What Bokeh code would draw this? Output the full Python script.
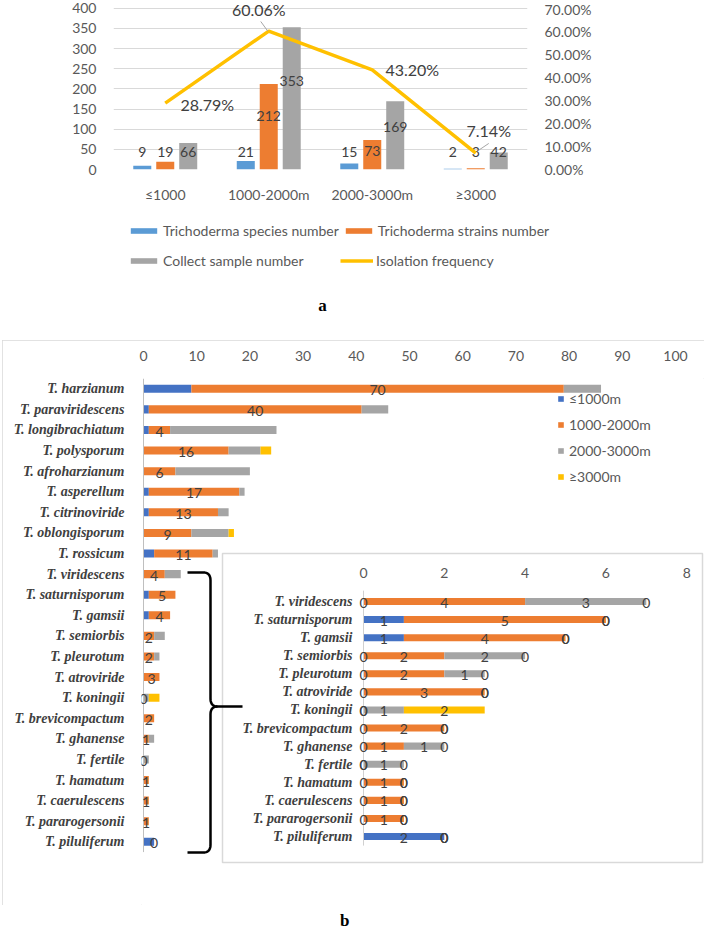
import numpy as np
from bokeh.plotting import figure
from bokeh.models import (ColumnDataSource, FactorRange, Range1d, LinearAxis, FixedTicker,
                          NumeralTickFormatter, Legend, LegendItem, Label, Div)
from bokeh.transform import dodge
from bokeh.core.properties import value
from bokeh.embed import file_html
from bokeh.resources import INLINE

# ---------------- data: panel a ----------------
altitudes = ["≤1000", "1000-2000m", "2000-3000m", "≥3000"]
species_number = [9, 21, 15, 2]
strains_number = [19, 212, 73, 3]
sample_number = [66, 353, 169, 42]
isolation_freq = [28.79, 60.06, 43.20, 7.14]   # percent
a_series_names = ["Trichoderma species number", "Trichoderma strains number",
                  "Collect sample number", "Isolation frequency"]
count_ticks = list(range(0, 401, 50))
pct_ticks = [i / 10 for i in range(8)]

# ---------------- data: panel b ----------------
species = ["T. harzianum", "T. paraviridescens", "T. longibrachiatum", "T. polysporum",
           "T. afroharzianum", "T. asperellum", "T. citrinoviride", "T. oblongisporum",
           "T. rossicum", "T. viridescens", "T. saturnisporum", "T. gamsii", "T. semiorbis",
           "T. pleurotum", "T. atroviride", "T. koningii", "T. brevicompactum", "T. ghanense",
           "T. fertile", "T. hamatum", "T. caerulescens", "T. pararogersonii", "T. piluliferum"]
alt_le1000 = [9, 1, 1, 0, 0, 1, 1, 0, 2, 0, 1, 1, 0, 0, 0, 0, 0, 0, 0, 0, 0, 0, 2]
alt_1000_2000 = [70, 40, 4, 16, 6, 17, 13, 9, 11, 4, 5, 4, 2, 2, 3, 0, 2, 1, 0, 1, 1, 1, 0]
alt_2000_3000 = [7, 5, 20, 6, 14, 1, 2, 7, 1, 3, 0, 0, 2, 1, 0, 1, 0, 1, 1, 0, 0, 0, 0]
alt_ge3000 = [0, 0, 0, 2, 0, 0, 0, 1, 0, 0, 0, 0, 0, 0, 0, 2, 0, 0, 0, 0, 0, 0, 0]
alt_labels = ["≤1000m", "1000-2000m", "2000-3000m", "≥3000m"]
inset_first = 9   # the inset repeats the species from T. viridescens onwards
inset_ticks = [0, 2, 4, 6, 8]
main_ticks = list(range(0, 101, 10))

# ---------------- styles ----------------
W = 710
H_A, H_LEG, H_B, H_BL = 205, 135, 565, 25
SANS = "Lato"
SERIF = "Liberation Serif"
GREY_TXT = "#595959"
DARK_TXT = "#404040"
A_COLORS = ["#5B9BD5", "#ED7D31", "#A5A5A5"]
LINE_COLOR = "#FFC000"
B_COLORS = ["#4472C4", "#ED7D31", "#A5A5A5", "#FFC000"]
BORDER = "#D9D9D9"

# ================= panel a : chart =================
A_LEFT, A_RIGHT, A_BOTTOM = 113, 183, 29
ZERO_PX, TOP400_PX = 176.0, 8.0
UPP = 400.0 / (ZERO_PX - TOP400_PX)       # data units per pixel
Y_END = ZERO_PX * UPP
PCT_SCALE = 0.70 / 400.0
CAT_PX = (W - A_LEFT - A_RIGHT) / len(altitudes)

pa = figure(width=W, height=H_A, x_range=FactorRange(*altitudes), y_range=Range1d(0, Y_END),
            output_backend="svg", toolbar_location=None,
            min_border_left=A_LEFT, min_border_right=A_RIGHT,
            min_border_top=0, min_border_bottom=A_BOTTOM)
pa.x_range.range_padding = 0
pa.extra_y_ranges = {"pct": Range1d(0, Y_END * PCT_SCALE)}
pa.outline_line_color = None
pa.xgrid.grid_line_color = None
pa.ygrid.ticker = FixedTicker(ticks=count_ticks)
pa.ygrid.grid_line_color = BORDER
pa.yaxis.ticker = FixedTicker(ticks=count_ticks)

right_axis = LinearAxis(y_range_name="pct", ticker=FixedTicker(ticks=pct_ticks),
                        formatter=NumeralTickFormatter(format="0.00%"))
pa.add_layout(right_axis, "right")
for ax in [pa.yaxis[0], right_axis, pa.xaxis[0]]:
    ax.axis_line_color = None
    ax.major_tick_line_color = None
    ax.minor_tick_line_color = None
    ax.major_label_text_font = SANS
    ax.major_label_text_font_size = "14px"
    ax.major_label_text_color = GREY_TXT
    ax.major_label_standoff = 13
pa.yaxis.major_label_standoff = 11
pa.xaxis.major_label_standoff = 10

def bar_label_y(vals):
    v = np.asarray(vals, dtype=float)
    return np.maximum(43.0, v * 0.62)

offs = [-0.222, 0.0, 0.222]
src_a = ColumnDataSource(dict(cat=altitudes,
                              s0=species_number, s1=strains_number, s2=sample_number,
                              l0=bar_label_y(species_number), l1=bar_label_y(strains_number),
                              l2=bar_label_y(sample_number),
                              t0=[str(v) for v in species_number],
                              t1=[str(v) for v in strains_number],
                              t2=[str(v) for v in sample_number],
                              freq=np.array(isolation_freq) / 100.0))
for k in range(3):
    pa.vbar(x=dodge("cat", offs[k], range=pa.x_range), top=f"s{k}", width=0.174,
            fill_color=A_COLORS[k], line_color=None, source=src_a)
    pa.text(x=dodge("cat", offs[k], range=pa.x_range), y=f"l{k}", text=f"t{k}",
            text_align="center", text_baseline="middle", text_font=value(SANS),
            text_font_size="14px", text_color=DARK_TXT, source=src_a)

pa.line(x="cat", y="freq", y_range_name="pct", line_color=LINE_COLOR,
        line_width=3.5, source=src_a)

# percentage labels (offsets in pixels relative to each point; negative dy = up)
lab_dx = np.array([42, -10, 40, 13])
lab_dy = np.array([1, -23, 0, -23])
pct_per_px = UPP * PCT_SCALE
pt_x = np.arange(len(altitudes)) + 0.5
pt_y = np.array(isolation_freq) / 100.0
pa.text(x=pt_x + lab_dx / CAT_PX, y=pt_y - lab_dy * pct_per_px,
        text=[f"{v:.2f}%" for v in isolation_freq], y_range_name="pct",
        text_align="center", text_baseline="middle", text_font=value(SANS),
        text_font_size="16px", text_color=DARK_TXT)
for i, (sx, sy, ex, ey) in {1: (2, 13, -1, 0), 3: (0, 13, 3, -3)}.items():
    x0 = pt_x[i] + (lab_dx[i] + sx) / CAT_PX
    y0 = pt_y[i] - (lab_dy[i] + sy) * pct_per_px
    x1 = pt_x[i] + ex / CAT_PX
    y1 = pt_y[i] - ey * pct_per_px
    pa.line(x=[x0, x1], y=[y0, y1], y_range_name="pct", line_color="#A6A6A6", line_width=1)

# ================= panel a : legend strip and caption =================
pl = figure(width=W, height=H_LEG, x_range=Range1d(0, W), y_range=Range1d(H_LEG, 0),
            x_axis_location=None, y_axis_location=None, output_backend="svg",
            toolbar_location=None, min_border_left=0, min_border_right=0,
            min_border_top=0, min_border_bottom=0)
pl.outline_line_color = None
pl.grid.grid_line_color = None
# legend keys (one NaN point each, so only the legend swatch is drawn)
key_r = [pl.vbar(x=[np.nan], top=[np.nan], width=1, fill_color=c, line_color=None)
         for c in A_COLORS]
key_r.append(pl.line(x=[np.nan, np.nan], y=[np.nan, np.nan], line_color=LINE_COLOR,
                     line_width=3.5))

def legend_row(items, row_center_px):
    return Legend(items=items, orientation="horizontal",
                  location=(127, H_LEG - (row_center_px + 8)),
                  glyph_width=33, glyph_height=7, label_height=16, label_width=174,
                  label_standoff=3, spacing=3, margin=0, padding=0,
                  border_line_color=None, background_fill_alpha=0, label_text_font=SANS,
                  label_text_font_size="14px", label_text_color=GREY_TXT)

pl.add_layout(legend_row([LegendItem(label=a_series_names[0], renderers=[key_r[0]]),
                          LegendItem(label=a_series_names[1], renderers=[key_r[1]])], 26))
pl.add_layout(legend_row([LegendItem(label=a_series_names[2], renderers=[key_r[2]]),
                          LegendItem(label=a_series_names[3], renderers=[key_r[3]])], 56))
pl.add_layout(Label(x=322, y=100, text="a", text_align="center", text_baseline="middle",
                    text_font=SERIF, text_font_size="17px", text_font_style="bold",
                    text_color="#000000"))

# ================= panel b =================
B_W = 702
B_LEFT, B_TOP = 139, 38
X0, PPU = 141.0, 5.32          # main chart: x=0 at px 141, 5.32 px per unit
R0, PITCH = 48.3, 20.59        # main chart: first row centre, row pitch
IX0, IPPU = 361.0, 40.4        # inset: x=0 at px 361
IR0, IPITCH = 261.0, 18.08     # inset: first row centre, row pitch

def bx(px): return (px - X0) / PPU
def by(py): return (py - R0) / PITCH
def ixf(px): return (px - IX0) / IPPU
def iyf(py): return (py - IR0) / IPITCH

pb = figure(width=B_W, height=H_B, x_range=Range1d(bx(B_LEFT), bx(B_W)),
            y_range=Range1d(by(H_B), by(B_TOP)), x_axis_location="above",
            output_backend="svg", toolbar_location=None,
            min_border_left=B_LEFT, min_border_top=B_TOP, min_border_right=0,
            min_border_bottom=0)
pb.styles = {"outline": f"1.5px solid {BORDER}", "outline-offset": "-1.5px",
             "margin-left": "2px"}
pb.extra_x_ranges = {"ix": Range1d(ixf(B_LEFT), ixf(B_W))}
pb.extra_y_ranges = {"iy": Range1d(iyf(H_B), iyf(B_TOP))}
pb.outline_line_color = None
pb.grid.grid_line_color = None

rows = list(range(len(species)))
pb.xaxis.ticker = FixedTicker(ticks=main_ticks)
pb.yaxis.ticker = FixedTicker(ticks=rows)
pb.yaxis.major_label_overrides = {i: s for i, s in enumerate(species)}
for ax in [pb.xaxis[0], pb.yaxis[0]]:
    ax.axis_line_color = None
    ax.major_tick_line_color = None
    ax.minor_tick_line_color = None
pb.xaxis.major_label_text_font = SANS
pb.xaxis.major_label_text_font_size = "14px"
pb.xaxis.major_label_text_color = GREY_TXT
pb.xaxis.major_label_standoff = 12
pb.yaxis.major_label_text_font = SERIF
pb.yaxis.major_label_text_font_style = "bold italic"
pb.yaxis.major_label_text_font_size = "14px"
pb.yaxis.major_label_text_color = DARK_TXT
pb.yaxis.major_label_standoff = 11

stack_names = ["b1", "b2", "b3", "b4"]
series_b = [alt_le1000, alt_1000_2000, alt_2000_3000, alt_ge3000]
src_b = ColumnDataSource(dict(row=rows, **{n: s for n, s in zip(stack_names, series_b)}))
main_r = pb.hbar_stack(stack_names, y="row", height=0.39, fill_color=B_COLORS,
                       line_color=None, source=src_b)
pb.segment(x0=0, y0=-0.5, x1=0, y1=len(species) - 0.5, line_color="#BFBFBF", line_width=1)

b1 = np.array(alt_le1000)
b2 = np.array(alt_1000_2000)
pb.text(x=b1 + b2 / 2.0, y=np.array(rows) + 0.08, text=[str(v) for v in alt_1000_2000],
        text_align="center", text_baseline="middle", text_font=value(SANS),
        text_font_size="14px", text_color=DARK_TXT)

legend_b = Legend(items=[LegendItem(label=lab, renderers=[r]) for lab, r in zip(alt_labels, main_r)],
                  location=(555 - B_LEFT, H_B - 145), glyph_width=7, glyph_height=7,
                  label_height=14, spacing=9, padding=0, margin=0, label_standoff=5,
                  border_line_color=None, background_fill_alpha=0, label_text_font=SANS,
                  label_text_font_size="14px", label_text_color=GREY_TXT)
pb.add_layout(legend_b)

# ---- inset ----
pb.quad(left=bx(220), right=bx(700), top=by(213), bottom=by(522),
        fill_color="white", line_color=BORDER, line_width=1.5)
ins_species = species[inset_first:]
ins_rows = list(range(len(ins_species)))
src_i = ColumnDataSource(dict(row=ins_rows, **{n: s[inset_first:] for n, s in zip(stack_names, series_b)}))
pb.hbar_stack(stack_names, y="row", height=0.39, fill_color=B_COLORS, line_color=None,
              source=src_i, x_range_name="ix", y_range_name="iy")
pb.segment(x0=0, y0=-0.6, x1=0, y1=len(ins_species) - 0.5, line_color="#D0D0D0",
           line_width=1, x_range_name="ix", y_range_name="iy")

lx, ly, lt = [], [], []
start = np.zeros(len(ins_species))
for s in series_b:
    v = np.array(s[inset_first:], dtype=float)
    lx += list(start + v / 2.0)
    ly += ins_rows
    lt += [str(int(t)) for t in v]
    start = start + v
pb.text(x=lx, y=np.array(ly) + 0.06, text=lt, x_range_name="ix", y_range_name="iy",
        text_align="center", text_baseline="middle", text_font=value(SANS),
        text_font_size="14px", text_color=DARK_TXT)

pb.text(x=inset_ticks, y=[iyf(232)] * len(inset_ticks), text=[str(t) for t in inset_ticks],
        x_range_name="ix", y_range_name="iy", text_align="center", text_baseline="middle",
        text_font=value(SANS), text_font_size="14px", text_color=GREY_TXT)
pb.text(x=[ixf(350)] * len(ins_species), y=ins_rows, text=ins_species,
        x_range_name="ix", y_range_name="iy", text_align="right", text_baseline="middle",
        text_font=value(SERIF), text_font_style="bold italic", text_font_size="14px",
        text_color=DARK_TXT)

# ---- brace linking the small species to the inset ----
def qcurve(p0, p1, p2, n=10):
    t = np.linspace(0, 1, n)
    xs = (1 - t) ** 2 * p0[0] + 2 * (1 - t) * t * p1[0] + t ** 2 * p2[0]
    ys = (1 - t) ** 2 * p0[1] + 2 * (1 - t) * t * p1[1] + t ** 2 * p2[1]
    return list(xs), list(ys)

BX, BTOP, BMID, BBOT, BL, BTIP = 208, 232, 366, 512, 185, 240
upper = [([BL], [BTOP]), qcurve((BX - 7, BTOP), (BX, BTOP), (BX, BTOP + 8)),
         qcurve((BX, BMID - 8), (BX, BMID), (BX + 7, BMID)), ([BTIP], [BMID])]
lower = [([BX + 7], [BMID]), qcurve((BX + 7, BMID), (BX, BMID), (BX, BMID + 8)),
         qcurve((BX, BBOT - 8), (BX, BBOT), (BX - 7, BBOT)), ([BL], [BBOT])]
for part in (upper, lower):
    xs = sum([p[0] for p in part], [])
    ys = sum([p[1] for p in part], [])
    pb.line(x=[bx(v) for v in xs], y=[by(v) for v in ys], line_color="black", line_width=2.5)

label_b = Div(text='<div style="position: relative; left: 335px; top: 1px; '
                   'font-family: \'Liberation Serif\'; font-weight: bold; font-size: 17px; '
                   'line-height: 20px; color: #000;">b</div>',
              width=W, height=H_BL)

open("out.html", "w").write(file_html([pa, pl, pb, label_b], INLINE))
